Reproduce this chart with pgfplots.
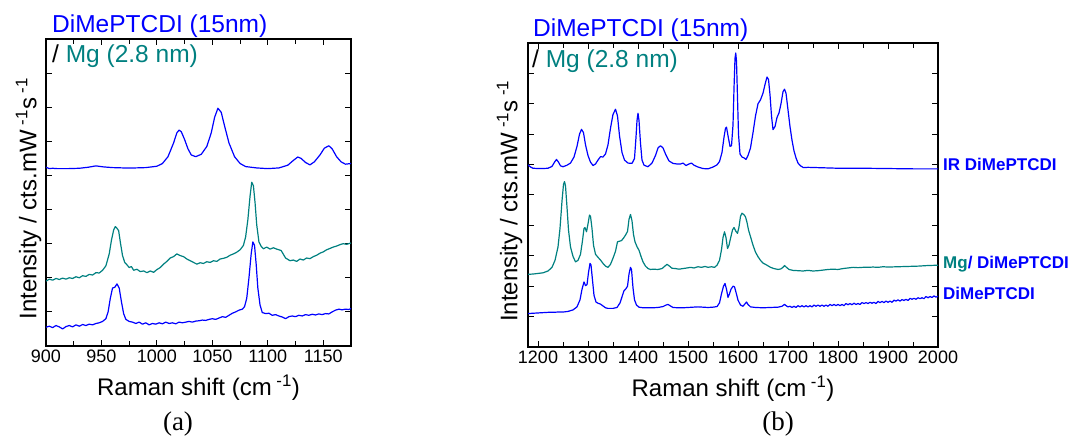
\documentclass[border=0pt]{standalone}
\usepackage{pgfplots}
\pgfplotsset{compat=1.18}
\usepackage{fontspec}
\setmainfont{Liberation Sans}
\newfontfamily\serifff{Liberation Serif}
\definecolor{ramblue}{RGB}{0,0,255}
\definecolor{ramteal}{RGB}{0,128,128}
\pgfplotsset{
  ramanax/.style={
    scale only axis,
    anchor=south west,
    axis line style={black, line width=1.2pt},
    tick style={black, line width=1pt},
    major tick length=6pt, minor tick length=5pt,
    tick align=inside,
    xtick pos=both, ytick pos=both,
    yticklabels={},
    ymin=0,
    tick label style={font=\fontsize{18}{20}\selectfont},
    /pgf/number format/assume math mode=true,
    /pgf/number format/set thousands separator={},
    xlabel={Raman shift (cm\textsuperscript{ -1})},
    ylabel={Intensity / cts.mW\textsuperscript{ -1}s\textsuperscript{ -1}},
    label style={font=\fontsize{24}{28}\selectfont},
    every axis plot/.append style={line width=1.2pt, line join=round},
  }
}
\begin{document}
\begin{tikzpicture}
\useasboundingbox (0,0) rectangle (1069pt,436pt);
% ---------------- (a) ----------------
\begin{axis}[ramanax,
  at={(46pt,90pt)}, width=305pt, height=307pt,
  xmin=900, xmax=1175, ymax=9,
  xtick={900,950,...,1150}, minor xtick={925,975,...,1175},
  ytick={0,1,...,9},
  xlabel style={at={(axis description cs:0.5,-0.137)}, anchor=center},
  ylabel style={at={(axis description cs:-0.057,0.48)}, anchor=center},
]
\addplot[ramblue] coordinates {
(900,5.24)(903,5.20)(906,5.21)(910,5.20)(920,5.20)(930,5.21)(938,5.24)(945,5.28)(952,5.25)(960,5.23)
(970,5.22)(980,5.22)(990,5.23)(1000,5.27)(1005,5.35)(1010,5.55)(1015,5.95)(1018,6.25)(1020,6.33)(1022,6.28)
(1025,6.05)(1028,5.78)(1031,5.60)(1035,5.55)(1040,5.62)(1045,5.85)(1049,6.25)(1052,6.70)(1055,6.97)(1058,6.85)
(1061,6.45)(1065,5.95)(1070,5.55)(1075,5.35)(1080,5.26)(1090,5.22)(1100,5.20)(1110,5.22)(1118,5.30)(1123,5.44)
(1127,5.54)(1130,5.50)(1134,5.38)(1138,5.31)(1142,5.40)(1147,5.60)(1151,5.80)(1155,5.87)(1158,5.78)(1162,5.55)
(1166,5.40)(1170,5.33)(1175,5.35)
};
\addplot[ramteal] coordinates {
(900,1.90)(903,1.96)(906,1.93)(909,1.98)(912,1.95)(915,1.99)(918,1.96)(921,2.00)(924,1.98)(927,2.03)
(930,2.00)(933,2.06)(936,2.04)(939,2.10)(942,2.08)(945,2.15)(948,2.14)(951,2.22)(954,2.35)(957,2.70)
(959,3.10)(961,3.40)(962.5,3.50)(964,3.45)(965.5,3.38)(967,3.05)(969,2.65)(971,2.45)(973,2.38)(975,2.30)
(977,2.33)(979,2.22)(982,2.25)(985,2.18)(988,2.20)(991,2.15)(994,2.20)(997,2.16)(1000,2.24)(1003,2.30)
(1006,2.40)(1009,2.48)(1012,2.58)(1015,2.62)(1018,2.70)(1021,2.65)(1024,2.62)(1027,2.55)(1030,2.50)(1033,2.45)
(1036,2.40)(1039,2.44)(1042,2.42)(1045,2.47)(1048,2.45)(1051,2.50)(1054,2.48)(1057,2.55)(1060,2.57)(1063,2.60)
(1066,2.66)(1069,2.70)(1072,2.75)(1075,2.82)(1078,2.95)(1080,3.20)(1082,3.70)(1084,4.40)(1085.5,4.80)(1087,4.70)
(1088.5,4.20)(1090,3.55)(1092,3.05)(1094,2.92)(1096,2.85)(1099,2.90)(1102,2.84)(1105,2.88)(1108,2.84)(1112,2.80)
(1116,2.58)(1120,2.50)(1123,2.52)(1126,2.48)(1129,2.55)(1132,2.52)(1135,2.58)(1138,2.56)(1141,2.62)(1144,2.66)
(1147,2.72)(1150,2.76)(1153,2.82)(1156,2.86)(1159,2.90)(1162,2.93)(1165,2.97)(1168,3.00)(1171,2.98)(1175,3.02)
};
\addplot[ramblue] coordinates {
(900,0.55)(903,0.58)(906,0.54)(909,0.60)(912,0.56)(915,0.50)(918,0.57)(921,0.60)(924,0.56)(927,0.62)
(930,0.58)(933,0.63)(936,0.60)(939,0.64)(942,0.62)(945,0.66)(948,0.68)(951,0.72)(954,0.80)(956,1.00)
(958,1.40)(960,1.70)(962,1.72)(964,1.82)(966,1.70)(968,1.30)(970,0.95)(972,0.78)(975,0.72)(978,0.70)
(981,0.66)(984,0.70)(987,0.64)(990,0.68)(993,0.62)(996,0.66)(999,0.64)(1002,0.68)(1005,0.65)(1008,0.70)
(1011,0.66)(1014,0.68)(1017,0.65)(1020,0.70)(1023,0.68)(1026,0.70)(1029,0.72)(1032,0.70)(1035,0.73)(1038,0.74)
(1041,0.76)(1044,0.75)(1047,0.78)(1050,0.80)(1053,0.78)(1056,0.82)(1059,0.86)(1062,0.84)(1065,0.90)(1068,0.96)
(1071,1.00)(1074,1.05)(1077,1.08)(1079,1.15)(1081,1.40)(1083,2.00)(1085,2.70)(1086.5,3.05)(1088,2.95)(1089.5,2.40)
(1091,1.70)(1093,1.20)(1095,0.98)(1098,0.95)(1101,0.96)(1104,0.90)(1107,0.92)(1110,0.88)(1113,0.85)(1116,0.80)
(1119,0.86)(1122,0.88)(1125,0.86)(1128,0.90)(1131,0.88)(1134,0.92)(1137,0.90)(1140,0.93)(1143,0.91)(1146,0.94)
(1149,0.92)(1152,0.95)(1155,0.94)(1158,1.00)(1161,1.05)(1164,1.08)(1167,1.06)(1170,1.08)(1173,1.07)(1175,1.10)
};
\end{axis}
% ---------------- (b) ----------------
\begin{axis}[ramanax,
  at={(528pt,89pt)}, width=410pt, height=304pt,
  xmin=1180, xmax=2000, ymax=10,
  xtick={1200,1300,...,2000}, minor xtick={1250,1350,...,1950},
  ytick={0,1,...,10},
  xlabel style={at={(axis description cs:0.5,-0.138)}, anchor=center},
  ylabel style={at={(axis description cs:-0.045,0.48)}, anchor=center},
]
\addplot[ramblue] coordinates {
(1180,5.99)(1185,5.92)(1190,5.88)(1200,5.87)(1210,5.87)(1220,5.88)(1228,5.94)(1233,6.08)(1237,6.17)(1241,6.08)
(1245,5.96)(1250,5.93)(1258,5.98)(1265,6.05)(1272,6.25)(1278,6.60)(1283,7.00)(1287,7.16)(1291,7.05)(1295,6.65)
(1300,6.30)(1305,6.08)(1310,5.97)(1315,6.02)(1320,6.15)(1325,6.26)(1330,6.25)(1335,6.35)(1340,6.65)(1345,7.20)
(1350,7.65)(1355,7.82)(1359,7.60)(1363,6.95)(1368,6.40)(1373,6.15)(1380,6.05)(1388,6.04)(1393,6.20)(1396,6.90)
(1398,7.45)(1400,7.69)(1402,7.45)(1405,6.70)(1408,6.15)(1412,5.98)(1420,5.93)(1428,6.05)(1435,6.30)(1440,6.55)
(1445,6.62)(1450,6.55)(1455,6.35)(1462,6.12)(1470,6.04)(1478,6.02)(1485,6.02)(1490,6.05)(1496,5.97)(1502,6.02)
(1507,6.05)(1512,5.98)(1520,5.92)(1530,5.87)(1540,5.86)(1550,5.92)(1558,5.99)(1563,6.10)(1568,6.40)(1572,6.90)
(1575,7.20)(1577,7.23)(1580,6.95)(1584,6.60)(1587,6.62)(1590,7.30)(1592,8.50)(1594,9.50)(1595.5,9.67)(1597,9.40)
(1599,8.20)(1601,7.00)(1604,6.35)(1608,6.25)(1612,6.22)(1616,6.17)(1620,6.30)(1625,6.55)(1630,7.05)(1635,7.60)
(1640,8.00)(1645,8.13)(1650,8.35)(1655,8.70)(1658,8.88)(1661,8.80)(1664,8.30)(1667,7.60)(1670,7.15)(1674,7.25)
(1678,7.55)(1682,7.70)(1686,8.00)(1690,8.40)(1693,8.48)(1696,8.35)(1700,7.80)(1704,7.25)(1708,6.80)(1712,6.45)
(1716,6.22)(1720,6.05)(1725,5.96)(1731,5.90)(1740,5.91)(1760,5.90)(1800,5.88)(1850,5.88)(1900,5.87)(1950,5.86)
(2000,5.86)
};
\addplot[ramteal] coordinates {
(1180,2.39)(1190,2.40)(1200,2.42)(1210,2.44)(1220,2.50)(1228,2.62)(1234,2.85)(1240,3.29)(1244,3.90)(1248,4.80)
(1251,5.35)(1253,5.44)(1255,5.30)(1258,4.60)(1261,3.85)(1265,3.29)(1270,2.98)(1275,2.80)(1280,2.85)(1285,3.05)
(1289,3.50)(1292,3.90)(1294,3.93)(1297,3.79)(1300,4.05)(1303,4.34)(1305,4.30)(1308,3.90)(1311,3.35)(1315,3.05)
(1320,2.95)(1325,2.86)(1330,2.75)(1335,2.66)(1340,2.62)(1345,2.72)(1350,2.92)(1355,3.15)(1359,3.46)(1363,3.48)
(1367,3.50)(1371,3.58)(1375,3.68)(1379,3.80)(1382,4.20)(1385,4.36)(1388,4.15)(1391,3.70)(1394,3.46)(1398,3.30)
(1402,3.18)(1406,2.98)(1410,2.80)(1415,2.66)(1420,2.58)(1425,2.55)(1430,2.56)(1440,2.55)(1448,2.58)(1453,2.65)
(1458,2.72)(1463,2.66)(1468,2.59)(1475,2.58)(1482,2.56)(1490,2.58)(1498,2.60)(1505,2.62)(1512,2.60)(1520,2.64)
(1527,2.62)(1534,2.65)(1540,2.62)(1547,2.64)(1553,2.62)(1558,2.69)(1563,2.85)(1567,3.20)(1570,3.60)(1573,3.79)
(1576,3.60)(1579,3.24)(1582,3.35)(1585,3.57)(1589,3.85)(1592,3.93)(1596,3.80)(1599,3.74)(1602,3.95)(1605,4.30)
(1608,4.40)(1612,4.35)(1615,4.28)(1618,4.10)(1621,3.85)(1625,3.63)(1630,3.35)(1635,3.12)(1640,2.97)(1645,2.85)
(1650,2.76)(1658,2.69)(1665,2.62)(1672,2.58)(1680,2.55)(1686,2.57)(1690,2.62)(1693,2.68)(1697,2.62)(1702,2.55)
(1710,2.52)(1720,2.51)(1730,2.50)(1740,2.52)(1750,2.50)(1760,2.51)(1770,2.53)(1780,2.55)(1790,2.56)(1800,2.55)
(1810,2.58)(1820,2.60)(1830,2.62)(1840,2.61)(1850,2.62)(1860,2.62)(1870,2.63)(1880,2.62)(1890,2.64)(1900,2.63)
(1920,2.64)(1940,2.65)(1960,2.66)(1980,2.68)(2000,2.69)
};
\addplot[ramblue] coordinates {
(1180,1.10)(1190,1.11)(1200,1.12)(1210,1.13)(1220,1.14)(1230,1.14)(1240,1.15)(1250,1.15)(1260,1.17)(1270,1.22)
(1278,1.32)(1284,1.55)(1288,1.90)(1292,2.14)(1295,2.02)(1298,2.05)(1301,2.45)(1304,2.75)(1306,2.70)(1309,2.20)
(1312,1.70)(1316,1.48)(1320,1.44)(1325,1.41)(1330,1.35)(1335,1.29)(1340,1.27)(1350,1.27)(1358,1.30)(1364,1.45)
(1368,1.65)(1372,1.85)(1376,1.92)(1379,2.00)(1382,2.40)(1385,2.62)(1387,2.55)(1390,1.95)(1393,1.55)(1397,1.38)
(1402,1.31)(1410,1.29)(1420,1.29)(1430,1.29)(1440,1.30)(1450,1.33)(1456,1.38)(1460,1.40)(1465,1.35)(1470,1.30)
(1480,1.29)(1490,1.29)(1500,1.30)(1510,1.31)(1520,1.32)(1530,1.31)(1540,1.30)(1550,1.31)(1558,1.33)(1563,1.45)
(1567,1.75)(1571,2.00)(1574,2.09)(1577,1.90)(1580,1.63)(1583,1.75)(1586,1.90)(1590,2.00)(1593,1.98)(1596,1.80)
(1600,1.54)(1605,1.38)(1610,1.34)(1614,1.42)(1617,1.48)(1620,1.40)(1625,1.32)(1635,1.30)(1650,1.29)(1665,1.30)
(1680,1.31)(1688,1.34)(1693,1.40)(1697,1.35)
(1700,1.32)(1704,1.34)(1708,1.30)(1712,1.34)(1716,1.30)(1720,1.36)(1724,1.32)(1728,1.36)(1732,1.32)(1736,1.36)
(1740,1.32)(1744,1.36)(1748,1.32)(1752,1.38)(1756,1.34)(1760,1.38)(1764,1.34)(1768,1.38)(1772,1.34)(1776,1.38)
(1780,1.34)(1784,1.40)(1788,1.36)(1792,1.40)(1796,1.36)(1800,1.40)(1804,1.36)(1808,1.40)(1812,1.36)(1816,1.43)
(1820,1.39)(1824,1.43)(1828,1.39)(1832,1.44)(1836,1.40)(1840,1.43)(1844,1.40)(1848,1.46)(1852,1.43)(1856,1.46)
(1860,1.43)(1864,1.47)(1868,1.44)(1872,1.47)(1876,1.43)(1880,1.50)(1884,1.46)(1888,1.50)(1892,1.46)(1896,1.51)
(1900,1.47)(1904,1.51)(1908,1.47)(1912,1.54)(1916,1.51)(1920,1.55)(1924,1.51)(1928,1.56)(1932,1.53)(1936,1.57)
(1940,1.53)(1944,1.60)(1948,1.57)(1952,1.60)(1956,1.57)(1960,1.62)(1964,1.59)(1968,1.62)(1972,1.59)(1976,1.66)
(1980,1.62)(1984,1.66)(1988,1.63)(1992,1.68)(1996,1.64)(2000,1.67)
};
\end{axis}
% ---------------- texts ----------------
\begin{scope}[every node/.style={inner sep=0pt, anchor=base west}]
\node[text=ramblue, font=\fontsize{24.5}{27}\selectfont] at (52pt,403pt) {DiMePTCDI (15nm)};
\node[font=\fontsize{24.5}{27}\selectfont] at (52pt,373pt) {/ \textcolor{ramteal}{Mg (2.8 nm)}};
\node[text=ramblue, font=\fontsize{24.5}{27}\selectfont] at (533pt,399pt) {DiMePTCDI (15nm)};
\node[font=\fontsize{24.5}{27}\selectfont] at (532pt,368pt) {/ \textcolor{ramteal}{Mg (2.8 nm)}};
\node[text=ramblue, font=\fontsize{17}{19}\selectfont\bfseries] at (943pt,265pt) {IR DiMePTCDI};
\node[text=ramblue, font=\fontsize{17}{19}\selectfont\bfseries] at (943pt,167pt) {\textcolor{ramteal}{Mg}/ DiMePTCDI};
\node[text=ramblue, font=\fontsize{17}{19}\selectfont\bfseries] at (943pt,136pt) {DiMePTCDI};
\end{scope}
\node[inner sep=0pt, anchor=base, font=\serifff\fontsize{27}{30}\selectfont] at (178pt,5pt) {(a)};
\node[inner sep=0pt, anchor=base, font=\serifff\fontsize{27}{30}\selectfont] at (778pt,5pt) {(b)};
\end{tikzpicture}
\end{document}
